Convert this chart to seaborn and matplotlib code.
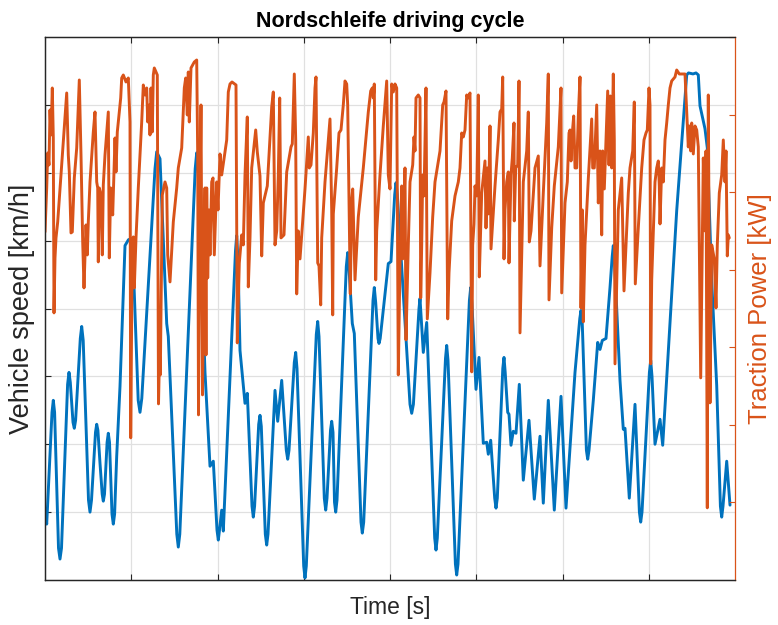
import numpy as np
import pandas as pd
import seaborn as sns
import matplotlib
matplotlib.use("Agg")
import matplotlib.pyplot as plt

# ---------------- data ----------------
speed_time = [0, 1.7, 7, 8.3, 9.6, 13.5, 15, 16.5, 22.6, 24,
              25.3, 28, 29.3, 30.6, 35.3, 36.7, 38.2, 43.5, 45, 46.5,
              50.5, 51.7, 52.9, 55, 57.2, 58.3, 59.5, 62.1, 63.3, 64.5,
              67, 68.3, 69.6, 71.7, 75, 80, 83.5, 87.3, 93.2, 95,
              96.8, 110, 111.7, 115, 121.7, 123.3, 131.8, 133.3, 134.8, 150.2,
              151.7, 153.2, 160, 165, 168.3, 172, 173.3, 174.5, 176.7, 178.3,
              190.5, 191.7, 193, 195, 200, 202.3, 207, 208.3, 209.6, 213.7,
              215, 216.3, 220.3, 221.7, 223, 230, 232.7, 236.7, 241.3, 242.7,
              244, 249.3, 250.7, 252, 258.7, 260, 261.3, 271.3, 272.7, 274,
              279.3, 280.7, 282, 285.5, 286.7, 288, 289.5, 290.7, 292, 301.3,
              302.7, 304, 307.3, 309.3, 316, 317.3, 318.7, 328, 329.3, 330.7,
              333, 334, 335.2, 343.3, 346, 349.7, 351, 352.3, 365, 366.7,
              368.4, 374, 375, 378.3, 381.7, 389.7, 391, 392.3, 400.5, 401.7,
              403, 410.4, 411.7, 413, 424.4, 425.7, 427, 431, 434, 438.3,
              441.7, 443.3, 445.7, 449.7, 451, 452.3, 457.8, 459, 460.2, 462.7,
              464, 466, 468.3, 471, 474.3, 478.3, 484, 489.3, 495, 498.3,
              503.3, 509.3, 516, 521, 530, 534.8, 536, 537.3, 541.4, 542.7,
              544, 548.3, 552.7, 555, 557.3, 561, 565, 567.2, 568.3, 569.5,
              575, 578.3, 580, 584.3, 590, 594.4, 595.7, 597, 604.4, 605.7,
              607, 610, 615, 617.7, 631.7, 641.7, 643.5, 648, 651, 653.3,
              655, 660, 662.3, 666.7, 671.7, 675.4, 676.7, 678, 681.7, 685]
speed_kmh = [36, 28, 84, 90, 84, 16, 10.5, 16, 98, 104,
             99, 79, 76, 80, 121, 127, 120, 40, 34, 40,
             74, 78, 75, 58.5, 43, 39.5, 43, 69, 73.5, 69,
             33, 28, 33, 62, 97, 167.5, 170.5, 171, 90, 84,
             91, 206, 214.5, 211, 128.5, 122, 23, 16.5, 23, 206,
             214, 205, 104, 57, 59.5, 25, 20, 25, 35, 24.5,
             165, 172.5, 160, 115, 88.5, 93.5, 37, 31.5, 37, 78,
             82.5, 77, 23, 17.5, 23, 95, 79.5, 100, 65, 60.5,
             65, 109, 114, 106, 7, 1, 7, 123, 129.5, 122,
             41, 35, 41, 75, 79.5, 74, 39, 34, 40, 157,
             164, 156, 128.5, 123.5, 29, 23.5, 29, 140, 146.5, 139,
             121, 118.5, 121, 158.5, 159.5, 193, 199, 193, 88, 83.5,
             88, 136, 141, 114, 129, 21, 15, 21, 111, 117.5,
             110, 8, 2.5, 8, 140, 146.5, 138, 95.5, 111.5, 68.5,
             69, 63, 70, 41, 36, 41, 106, 111.5, 104, 84,
             83, 67.5, 74.5, 73.5, 98, 50, 80, 40.5, 72, 38.5,
             90, 35, 92, 36, 104, 131, 135, 128, 65, 60.5,
             65, 90, 119, 115.5, 120, 121, 146.5, 162, 167.5, 160,
             100, 75.5, 76, 41, 88, 34, 29, 34, 104, 110,
             102, 68, 80.5, 67.5, 185, 253, 254, 253.5, 254, 253,
             237.5, 226, 216.5, 150, 97.5, 37, 31.5, 37, 59.5, 37.5]

power_time = [0, 1.7, 2.7, 4, 5, 6, 7.3, 8.3, 9, 10, 11, 12.7, 21.7, 23.3, 24.3, 26, 27.3, 29.3, 31.7,
              34.3, 36, 37.7, 39, 40, 41, 42.3, 43.3, 45, 48.3, 50, 51.7, 52.7, 53.3, 54.3, 56, 57.3,
              58.3, 60, 63.3, 64.3, 65.7, 67.7, 70, 71, 72.3, 75.7, 76.7, 78.3, 81, 83.3, 85, 85.7,
              87.3, 88.3, 89.3, 91, 93.3, 96.7, 98.3, 100, 101.7, 102.7, 104.3, 105, 106, 107.3, 108.3,
              109.3, 112.3, 113.5, 114.5, 115.3, 117.3, 120, 121.7, 122.7, 125, 128.3, 131.7, 133.3,
              136.7, 139.3, 140.7, 142.3, 143.3, 144.3, 146, 149.3, 151.7, 152.7, 153.5, 154.5, 156,
              157.5, 159, 160, 161, 161.7, 162.7, 164, 165, 166.7, 168, 169.3, 171.7, 173, 175, 176.7,
              181.7, 183.3, 185, 187, 191, 192.3, 194.3, 196.7, 198.3, 200, 202.3, 203.3, 205, 206.7,
              210.7, 212.3, 215, 216.7, 218.3, 222.3, 226.7, 228.3, 230, 231.7, 233.3, 234.7, 236, 239,
              241.7, 246, 247.3, 249.3, 250.7, 251.7, 253.3, 255, 256.7, 260, 263.3, 264.3, 266, 268.3,
              270, 271, 272.7, 274, 275.7, 276.7, 280, 283.3, 285, 286.7, 287.7, 288.3, 291.7, 294,
              296, 298.3, 300, 301.7, 302.7, 305.3, 306.7, 307.7, 310, 313.3, 318.3, 323.3, 325.7,
              327.3, 328.3, 329.3, 330.7, 331.7, 335, 338.3, 341.7, 343.3, 345, 346.7, 348.3, 350,
              351.7, 353.3, 355, 356.7, 357.7, 360, 361, 363.3, 365, 367.7, 369, 370, 371, 373.3, 375,
              375.7, 376.7, 377.7, 379, 381, 382.3, 385, 387.7, 390, 395, 397.7, 399, 401, 402.7, 404,
              406.7, 410, 413.3, 415, 416.7, 418.3, 420, 421.7, 423.3, 425, 426.7, 427.7, 429, 430,
              431.7, 433.3, 434.3, 436.7, 440, 441, 442.3, 443.3, 445, 446, 450, 453.3, 455, 456.7,
              457.7, 459, 460, 461.7, 463.3, 464, 466, 467.3, 469, 469.3, 470.7, 472.7, 474, 475,
              478.3, 481.7, 483.3, 484.3, 486, 490, 493.3, 495, 498.3, 501.7, 503.3, 504, 506.7, 509.3,
              513.3, 516, 516.7, 520, 522.3, 524, 525, 526, 527.3, 528.7, 530, 531.7, 533.3, 535, 536,
              537.3, 538.3, 540, 543.3, 546.7, 547.7, 549.3, 551.7, 553.3, 555, 556.7, 557.7, 559.3,
              562.7, 564, 565.3, 566.7, 568.3, 569.3, 570, 573.3, 576.7, 579, 583.3, 585, 587.7, 589.3,
              590.3, 593.3, 596.7, 599, 601, 602.3, 604, 605, 605.7, 606.7, 610, 611.7, 613.3, 614.3,
              615, 616.7, 618.3, 620, 621.7, 623.3, 625, 626.7, 630, 631.7, 634.3, 640, 641.7, 643.3,
              644.3, 645.7, 646.7, 648.3, 650, 651.7, 653.3, 655.7, 658.3, 660, 661, 662.3, 663.3, 665,
              666.7, 669.3, 671, 672.3, 674.3, 676.7, 678.3, 680, 681, 682.3, 683.3, 684.3]
power_kw = [96.5, 118.5, 136, 130, 157.5, 145, 168.5, 143.5, 56, 83.5, 93.5, 101.5, 166, 135, 126.5, 96,
            96.5, 123.5, 138.5, 172.5, 135, 91.5, 68.5, 83.5, 100, 85, 101.5, 121.5, 146.5, 156.5, 121.5,
            118.5, 81.5, 118.5, 115, 85, 120, 135, 156.5, 83.5, 118.5, 105, 143.5, 126.5, 146.5, 163.5,
            173.5, 175, 171.5, 173.5, 151.5, -6.5, 91.5, 94, 68.5, 93.5, 118.5, 151.5, 170, 165, 168.5,
            151.5, 160, 145, 168.5, 146.5, 175, 178.5, 175, 10.5, 35, 25, 115, 121.5, 118.5, 85, 71.5,
            101.5, 118.5, 128.5, 138.5, 168.5, 173.5, 155, 176.5, 151.5, 178.5, 181.5, 182.5, 135, 5,
            87.5, 160, 15, 82.5, 118.5, 35, 118.5, 73.5, 107.5, 85, 121.5, 123.5, 85, 121.5, 107.5,
            135.5, 125, 142.5, 166.5, 170.5, 171.5, 170, 41, 81, 95, 90, 125, 154, 69, 93.5, 128.5,
            147.5, 136.5, 124.5, 84.5, 111, 119.5, 159, 166.5, 90, 97, 125, 163.5, 93.5, 95, 126.5,
            139, 140.5, 175.5, 142.5, 65.5, 97, 83, 95, 118, 144, 128.5, 130, 146, 168.5, 174, 81,
            79.5, 60, 93.5, 121.5, 142.5, 153, 107.5, 55, 105.5, 128.5, 146, 147.5, 160, 172, 170.5,
            160, 65.5, 112.5, 118, 72.5, 104, 128.5, 156.5, 167, 168.5, 163.5, 170.5, 72.5, 97, 125,
            149.5, 172, 125, 118, 170.5, 166.5, 170.5, 168.5, 25, 81, 119.5, 83, 128.5, 42.5, 90,
            121.5, 130, 144, 137, 163.5, 165, 163.5, 63.5, 90, 125, 114.5, 168.5, 53, 76, 104, 121.5,
            137, 160, 161.5, 167, 53, 76, 102, 114.5, 121.5, 128.5, 146, 144, 147.5, 165, 163.5, 166,
            26.5, 90, 100.5, 119.5, 114.5, 165, 74, 116, 132, 98.5, 128.5, 105.5, 149.5, 88, 119.5,
            142.5, 156.5, 158, 174, 83, 107.5, 121.5, 126.5, 81, 125, 133.5, 151, 102, 128.5, 130,
            172, 46, 121.5, 137, 156.5, 91.5, 97, 128.5, 134.5, 79.5, 116, 151, 175.5, 62.5, 98.5,
            119.5, 139, 168.5, 66, 111, 121.5, 146, 147.5, 132, 146, 154.5, 128.5, 128.5, 154.5, 174,
            58.5, 107.5, 51.5, 90, 123, 153, 128.5, 128.5, 160, 111, 137, 95, 137, 118, 167, 130,
            164.5, 128.5, 175.5, 142.5, 30.5, 107.5, 123.5, 67, 116, 128.5, 137, 161.5, 70.5, 98.5,
            128.5, 142.5, 146, 147.5, 168.5, 160, 30.5, 72.5, 121.5, 128.5, 132, 119.5, 100.5, 128.5,
            121.5, 142.5, 151, 160, 168.5, 172, 174, 177.5, 175.5, 175.5, 156.5, 139, 149.5, 137,
            151, 135.5, 149.5, 147.5, 139, 23.5, 133.5, 97, 137, -41.5, 165, 11, 90, 83, 58.5, 90,
            116, 125, 142.5, 121.5, 137, 84.5, 95, 93.5]

title_text = "Nordschleife driving cycle"
x_label = "Time [s]"
y_label_left = "Vehicle speed [km/h]"
y_label_right = "Traction Power [kW]"

# ---------------- style ----------------
BLUE = "#0072BD"
ORANGE = "#D95319"
DARK = "#262626"

sns.set_theme(style="white")
plt.rcParams["font.family"] = ["Liberation Sans", "DejaVu Sans"]

speed_df = pd.DataFrame({"t": speed_time, "v": speed_kmh})
power_df = pd.DataFrame({"t": power_time, "p": power_kw})

fig = plt.figure(figsize=(7.78, 6.25), dpi=100)
ax = fig.add_axes([45 / 778, 1 - 580 / 625, 690 / 778, 543 / 625])
ax2 = ax.twinx()

sns.lineplot(data=speed_df, x="t", y="v", ax=ax, color=BLUE, linewidth=2.1,
             estimator=None, sort=False)
sns.lineplot(data=power_df, x="t", y="p", ax=ax2, color=ORANGE, linewidth=2.1,
             estimator=None, sort=False)

ax.set_xlim(0, 690)
ax.set_ylim(0, 272)
ax2.set_ylim(-77.6, 194)

ax.set_xticks(np.linspace(0, 690, 9)[1:-1])
ax.set_yticks(np.arange(34, 272, 34))
ax2.set_yticks(np.arange(-38.8, 194, 38.8))
ax.set_xticklabels([])
ax.set_yticklabels([])
ax2.set_yticklabels([])

ax.grid(True, color="#e0e0e0", linewidth=0.9)
ax.set_axisbelow(True)

ax.tick_params(axis="both", direction="in", length=4.5, width=0.8, color=DARK,
               top=True, bottom=True, left=True, right=False)
ax2.tick_params(axis="y", direction="in", length=4.5, width=0.8, colors=ORANGE,
                left=False, right=True)

for sp in ["left", "bottom", "top"]:
    ax.spines[sp].set_color(DARK)
    ax.spines[sp].set_linewidth(0.9)
    ax2.spines[sp].set_color(DARK)
    ax2.spines[sp].set_linewidth(0.9)
ax.spines["right"].set_visible(False)
ax2.spines["right"].set_color(ORANGE)
ax2.spines["right"].set_linewidth(0.9)

ax.set_xlabel(x_label, fontsize=16.5, color=DARK, labelpad=8)
ax.set_ylabel(y_label_left, fontsize=19.5, color=DARK, labelpad=3.5)
ax2.set_ylabel(y_label_right, fontsize=18.5, color=ORANGE, labelpad=6)
ax.set_title(title_text, fontsize=15.5, fontweight="bold", color="black", pad=7)

fig.savefig("out.png", dpi=100)
